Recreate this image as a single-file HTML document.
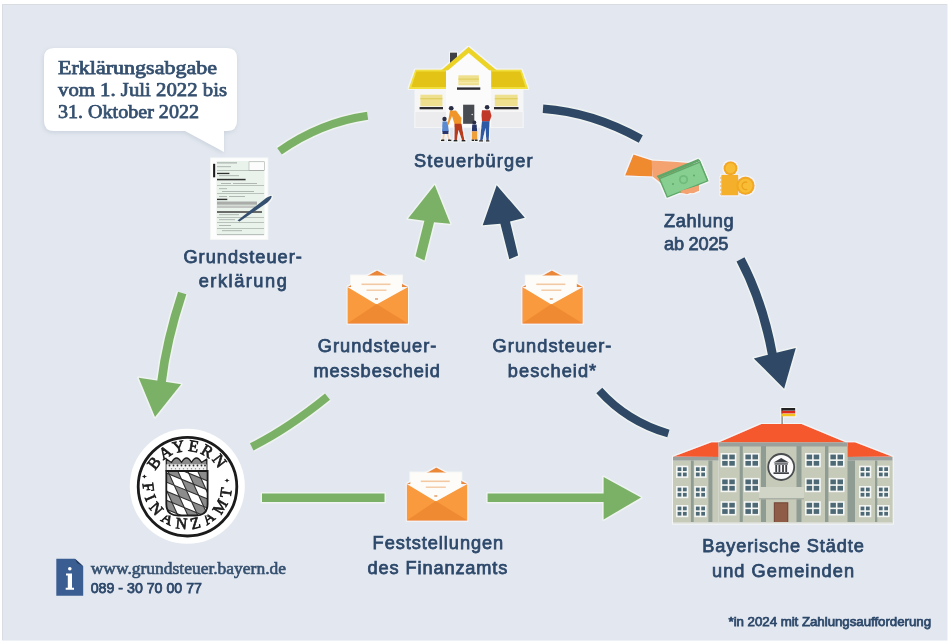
<!DOCTYPE html>
<html><head><meta charset="utf-8">
<style>
html,body{margin:0;padding:0;background:#fff;}
body{width:950px;height:643px;overflow:hidden;position:relative;}
svg{position:absolute;left:0;top:0;display:block;will-change:transform;}
.lb{font-family:"Liberation Sans",sans-serif;font-weight:normal;fill:#2d486a;stroke:#2d486a;stroke-width:0.75px;font-size:18.2px;}
.sl{font-family:"Liberation Serif",serif;font-weight:normal;fill:#35506f;stroke:#35506f;stroke-width:0.75px;font-size:19.5px;}
</style></head><body>
<svg width="950" height="643" viewBox="0 0 950 643">
<rect x="0" y="0" width="950" height="643" fill="#ffffff"/>
<rect x="2" y="4" width="945.5" height="636.6" fill="#e3e8f0"/>
<path d="M2.5,640 V4.5 H947" fill="none" stroke="#d9dde2" stroke-width="1"/>

<defs><filter id="halo" x="-10%" y="-10%" width="120%" height="120%">
  <feMorphology in="SourceAlpha" operator="dilate" radius="1.2" result="d"/>
  <feFlood flood-color="#f7f9f7" flood-opacity="0.85"/>
  <feComposite in2="d" operator="in" result="h"/>
  <feGaussianBlur in="h" stdDeviation="0.5" result="hb"/>
  <feMerge><feMergeNode in="hb"/><feMergeNode in="SourceGraphic"/></feMerge>
</filter></defs>
<!-- speech bubble -->
<filter id="bsh" x="-20%" y="-20%" width="140%" height="140%"><feGaussianBlur stdDeviation="2.5"/></filter>
<path d="M54,48 H227 Q237,48 237,58 V121 Q237,131 227,131 H224 V152 L185,131 H54 Q44,131 44,121 V58 Q44,48 54,48 Z" fill="#9aa6b4" opacity="0.35" filter="url(#bsh)" transform="translate(-0.5,1.5)"/>
<path d="M54,48 H227 Q237,48 237,58 V121 Q237,131 227,131 H224 V152 L185,131 H54 Q44,131 44,121 V58 Q44,48 54,48 Z" fill="#ffffff"/>
<text class="sl" x="58" y="73.5" textLength="159" lengthAdjust="spacingAndGlyphs">Erklärungsabgabe</text>
<text class="sl" x="58" y="95.8" textLength="169" lengthAdjust="spacingAndGlyphs">vom 1. Juli 2022 bis</text>
<text class="sl" x="58" y="117.9" textLength="141" lengthAdjust="spacingAndGlyphs">31. Oktober 2022</text>

<!-- arcs and arrows -->
<g id="halo" opacity="0.75" fill="none" stroke="#f4f7f3" stroke-linejoin="round">
  <path d="M279.5,151.3 Q320.5,122.5 367.6,115.8" stroke-width="11"/>
  <path d="M543,108.8 Q591.5,112 640.8,139" stroke-width="11.5"/>
  <path d="M740.5,259.3 Q762.7,301.25 772.5,355" stroke-width="12"/>
  <path d="M599.3,390.5 Q627,421.5 668.4,433.5" stroke-width="11"/>
  <path d="M251.7,446.8 Q287,429.5 327.5,396.7" stroke-width="11"/>
  <path d="M182.2,293 Q166.35,340.9 161.5,382" stroke-width="11.7"/>
  <polygon points="753.8,358.4 795.8,348 784.1,388.7" stroke-width="3" fill="#f4f7f3"/>
  <polygon points="138.7,377.8 181.1,384.3 155,417" stroke-width="3" fill="#f4f7f3"/>
  <polygon points="434.7,185 408.1,218.6 424.4,220.8 415.5,256.2 424.4,260.4 434,222.3 450.2,223.7" stroke-width="3" fill="#f4f7f3"/>
  <polygon points="496.7,185.3 524.8,217.8 510,221.5 518.1,255.5 509.3,259.2 500.4,223.7 482.7,225.2" stroke-width="3" fill="#f4f7f3"/>
  <polygon points="262,493.6 384.5,493.6 384.5,502 262,502" stroke-width="3" fill="#f4f7f3"/>
  <polygon points="487.6,493.6 604,493.6 604,502 487.6,502" stroke-width="3" fill="#f4f7f3"/>
  <polygon points="603.6,477 641,497.6 603.6,519.4" stroke-width="3" fill="#f4f7f3"/>
</g>
<g fill="none" stroke-linecap="butt">
  <path d="M279.5,151.3 Q320.5,122.5 367.6,115.8" stroke="#7bb166" stroke-width="8"/>
  <path d="M543,108.8 Q591.5,112 640.8,139" stroke="#2e4865" stroke-width="8.5"/>
  <path d="M740.5,259.3 Q762.7,301.25 772.5,355" stroke="#2e4865" stroke-width="9"/>
  <path d="M599.3,390.5 Q627,421.5 668.4,433.5" stroke="#2e4865" stroke-width="8"/>
  <path d="M251.7,446.8 Q287,429.5 327.5,396.7" stroke="#7bb166" stroke-width="8"/>
  <path d="M182.2,293 Q166.35,340.9 161.5,382" stroke="#7bb166" stroke-width="8.7"/>
</g>
<polygon points="753.8,358.4 795.8,348 784.1,388.7" fill="#2e4865"/>
<polygon points="138.7,377.8 181.1,384.3 155,417" fill="#7bb166"/>
<polygon points="434.7,185 408.1,218.6 424.4,220.8 415.5,256.2 424.4,260.4 434,222.3 450.2,223.7" fill="#7bb166"/>
<polygon points="496.7,185.3 524.8,217.8 510,221.5 518.1,255.5 509.3,259.2 500.4,223.7 482.7,225.2" fill="#2e4865"/>
<polygon points="262,493.6 384.5,493.6 384.5,502 262,502" fill="#7bb166"/>
<polygon points="487.6,493.6 604,493.6 604,502 487.6,502" fill="#7bb166"/>
<polygon points="603.6,477 641,497.6 603.6,519.4" fill="#7bb166"/>

<!-- envelopes -->
<defs>
<g id="env">
  <path d="M0,0 L29.5,-16.5 L60.5,0 Z" fill="#ea8838"/>
  <rect x="3.5" y="-11.5" width="51" height="30" fill="#fdfcf9"/>
  <rect x="14" y="-3.5" width="29" height="1.6" fill="#f3c9a4"/>
  <rect x="19" y="2.5" width="20" height="1.4" fill="#f3c9a4"/>
  <rect x="27.5" y="11" width="3" height="2" fill="#e9b68c"/>
  <path d="M0,0 L29,17.5 L60.5,0 V36.5 H0 Z" fill="#f89a3c"/>
  <path d="M0,36.5 L29,17 L60.5,36.5 Z" fill="#ef8a33"/>
</g>
</defs>
<g filter="url(#halo)"><use href="#env" x="347.5" y="287"/>
<use href="#env" x="522.3" y="287"/>
<use href="#env" x="406.8" y="484"/></g>


<!-- house -->
<g id="house" filter="url(#halo)">
  <!-- wing walls -->
  <rect x="415.5" y="88" width="107" height="39" fill="#f6f6f7"/>
  <rect x="415.5" y="112" width="107" height="15" fill="#ececef"/>
  <!-- chimney -->
  <rect x="450" y="52.5" width="7" height="12" fill="#3f4147"/>
  <!-- wing roofs -->
  <path d="M415.3,69.5 H446 V89 H408.5 Z" fill="#f1df3e"/>
  <path d="M416.5,71.5 H446 V87 H411.5 Z" fill="#e2c316"/>
  <path d="M491,69.5 H521.5 L528.3,89 H491 Z" fill="#f1df3e"/>
  <path d="M491,71.5 H520.3 L525.3,87 H491 Z" fill="#e2c316"/>
  <!-- gable -->
  <path d="M441,70.5 L468.6,46.8 L497,70.5 Z" fill="#ecd428"/>
  <path d="M446,72 L468.6,53 L491.2,72 V127 H446 Z" fill="#fbfbfb"/>
  <!-- windows -->
  <rect x="458.4" y="75.3" width="20.5" height="10" fill="#eee08e"/>
  <rect x="458.4" y="78.5" width="20.5" height="1.3" fill="#e2cf62"/>
  <rect x="458.4" y="82" width="20.5" height="1.3" fill="#f5eaa8"/>
  <rect x="457" y="87.4" width="23.3" height="2.4" fill="#2e2f33"/>
  <rect x="420.4" y="94.7" width="22" height="11.5" fill="#eee08e"/>
  <rect x="420.4" y="98" width="22" height="1.3" fill="#e2cf62"/>
  <rect x="419.6" y="107" width="23.4" height="2.3" fill="#2e2f33"/>
  <rect x="494.8" y="94.7" width="22.8" height="11.5" fill="#eee08e"/>
  <rect x="494.8" y="98" width="22.8" height="1.3" fill="#e2cf62"/>
  <rect x="494" y="107" width="24.5" height="2.3" fill="#2e2f33"/>
  <!-- door -->
  <rect x="463.1" y="104.7" width="11.2" height="19.1" fill="#4a4b53"/>
  <circle cx="472.2" cy="114.5" r="0.8" fill="#ddd"/>
  <!-- people -->
  <g>
    <!-- child 1 -->
    <circle cx="444.5" cy="119" r="2.2" fill="#2a2d45"/>
    <path d="M442.5,121.5 H447.5 L449,131.5 H442 Z" fill="#5b8ad0"/>
    <rect x="442.3" y="131" width="6.3" height="3" fill="#2c3470"/>
    <path d="M443,134 L442,140 H444 L445,134 Z M446.5,134 L448.5,140 H450 L448.5,134 Z" fill="#f2d2b8"/>
    <rect x="441" y="139.5" width="3.5" height="1.6" fill="#222"/>
    <rect x="448" y="139.5" width="3.5" height="1.6" fill="#222"/>
    <!-- father -->
    <circle cx="451.2" cy="108.3" r="2.4" fill="#2a2d45"/>
    <path d="M450,110.8 L456,110.5 L461.5,118 L461,124 H454.5 L452,116 L448.5,125 L447.5,124.5 Z" fill="#f0952c"/>
    <path d="M454.5,123.8 H461.5 L464.5,140.5 H462 L458.5,130 L456.8,140.8 H454.3 Z" fill="#b83a1e"/>
    <rect x="453.5" y="140" width="4" height="1.6" fill="#222"/>
    <rect x="461.5" y="140" width="4" height="1.6" fill="#222"/>
    <!-- child 2 -->
    <circle cx="474.3" cy="122.5" r="2" fill="#2a2d45"/>
    <path d="M472.2,124.5 H476.6 L477.3,131.5 H471.8 Z" fill="#27346a"/>
    <rect x="471.8" y="131.3" width="5.5" height="8.5" fill="#f0a03a"/>
    <rect x="471.5" y="139.5" width="2.8" height="1.5" fill="#222"/>
    <rect x="475" y="139.5" width="2.8" height="1.5" fill="#222"/>
    <!-- mother -->
    <circle cx="487.1" cy="107.3" r="2.3" fill="#2a2d45"/>
    <path d="M482,110.2 H490 L491.5,116 L489.5,121.5 H482 L481.5,115 Z" fill="#c0392b"/>
    <path d="M482,121.3 H489.5 L488.8,140.8 H486.3 L485.5,128 L482.5,140.8 H480 L481,130 Z" fill="#2e5aa5"/>
    <rect x="479" y="140.2" width="4" height="1.5" fill="#222"/>
    <rect x="486" y="140.2" width="3.5" height="1.5" fill="#222"/>
  </g>
</g>


<!-- money -->
<g id="money" filter="url(#halo)">
  <path d="M625,175.5 L633.5,154.5 L652,160.5 L652.5,176.5 Z" fill="#f08a2d"/>
  <path d="M651.5,160.5 Q670,161 690,163 Q700,164 702,168 L690,176 L662,184 L652.5,176.5 Z" fill="#f5a271"/>
  <path d="M679,186 Q688,186 699,184 L699,191 Q690,194 680,193 Z" fill="#f5a271"/>
  <path d="M656.5,176 L698.3,158.7 L700.3,161 L658.5,178.3 Z" fill="#5ea86b"/><path d="M698.3,158.7 L700.3,161 L708.6,181.2 L706.6,179 Z" fill="#5ea86b"/>
  <path d="M658.5,178.3 L700.3,161 L708.6,181.2 L666.8,198 Z" fill="#5ea86b"/>
  <path d="M660.5,178.9 L699.5,163 L706.8,180.6 L667.6,196.3 Z" fill="#86cf90"/>
  <circle cx="683.5" cy="179.6" r="4.6" fill="#6fbb7d"/>
  <circle cx="683.5" cy="179.6" r="2.8" fill="#86cf90"/>
  <circle cx="673" cy="184" r="1" fill="#5ea86b"/>
  <circle cx="694" cy="175.5" r="1" fill="#5ea86b"/>
  <path d="M680,191 Q686,196 690,193 Q696,194 699,189 L697,186 Z" fill="#f5a271"/>
  <!-- coins -->
  <rect x="721.3" y="174.8" width="17" height="20.6" fill="#f4b02a"/>
  <path d="M721.5,176 l-1.5,2 l1.5,2 l-1.5,2 l1.5,2 l-1.5,2 l1.5,2 l-1.5,2 l1.5,2 l-1.5,2 l1.5,2 Z" fill="#f4b02a"/>
  <circle cx="730.5" cy="168.3" r="7" fill="#f1a823"/>
  <circle cx="730.5" cy="168.3" r="5" fill="#f8bd36"/>
  <circle cx="745.5" cy="185.8" r="9.2" fill="#f1a823"/>
  <circle cx="745.5" cy="185.8" r="7" fill="#f8bd36"/>
  <path d="M747.3,182.3 A3.8,3.8 0 1 0 747.3,189.3" fill="none" stroke="#eca21f" stroke-width="1.3"/>
</g>

<!-- document -->
<g id="doc" filter="url(#halo)">
  <rect x="211" y="158.4" width="56.3" height="80.6" fill="#fdfdfd"/>
  <rect x="216.5" y="161" width="48" height="74" fill="#e9f3ec"/>
  <rect x="249" y="161.8" width="15.6" height="8.8" fill="#fbfcfb" stroke="#9aa09c" stroke-width="0.5"/>
  <rect x="213.1" y="163.8" width="2.1" height="13.5" fill="#1d1d1d"/>
  <g fill="#8a908c">
    <rect x="217" y="162.5" width="20" height="0.8"/>
    <rect x="217" y="166.5" width="14" height="0.6"/>
    <rect x="217" y="170.5" width="47" height="0.5"/>
    <rect x="217" y="172.8" width="12.4" height="1.3" fill="#333"/>
    <rect x="219" y="175.5" width="20" height="0.6"/>
    <rect x="217" y="178.8" width="28.6" height="1.5" fill="#333"/>
    <rect x="221" y="183" width="10" height="0.6"/>
    <rect x="233" y="183" width="24" height="0.6"/>
    <rect x="217" y="185.5" width="47" height="0.5"/>
    <rect x="219" y="188.5" width="8" height="0.6"/>
    <rect x="222" y="191" width="32" height="0.6"/>
    <rect x="217" y="193.5" width="47" height="0.5"/>
    <rect x="219" y="196" width="8" height="0.6"/>
    <rect x="229" y="196" width="16" height="0.6"/>
    <rect x="217" y="198.7" width="10.3" height="1.4" fill="#333"/>
    <rect x="217" y="201.5" width="40" height="3.2" fill="#a9aca9"/>
    <rect x="217" y="205.5" width="42" height="2.5" fill="#c2c5c2"/>
    <rect x="217" y="211.3" width="45" height="1.4" fill="#333"/>
    <rect x="219" y="214.5" width="20" height="0.6"/>
    <rect x="217" y="217" width="47" height="0.5"/>
    <rect x="219" y="219.5" width="16" height="0.6"/>
    <rect x="217" y="222.5" width="47" height="0.5"/>
    <rect x="219" y="225" width="12" height="0.6"/>
    <rect x="217" y="228" width="47" height="0.5"/>
    <rect x="222" y="230.5" width="20" height="0.6"/>
    <rect x="217" y="234.5" width="47" height="0.6"/>
    
  </g>
  <path d="M237.5,220.5 L265.5,198.5 Q270.5,195 271.8,196 Q272,198.5 267.5,202.5 L239.5,221.5 Z" fill="#34506f"/>
</g>
<!-- info icon -->
<path d="M56.3,558.7 H75 L83.2,566.2 V595.7 H56.3 Z" fill="#3b5e92"/>
<path d="M75,558.7 L83.2,566.2 L77,563 Z" fill="#24395a"/>
<circle cx="69.8" cy="568.8" r="1.8" fill="#ffffff"/>
<path d="M66,573.5 H72 V587.8 H74 V589.8 H65.7 V587.8 H67.8 V575.5 H66 Z" fill="#ffffff"/>


<!-- seal -->
<g id="seal">
  <circle cx="187.3" cy="486.3" r="57.5" fill="#ffffff"/>
  <circle cx="187.5" cy="486.7" r="49.3" fill="none" stroke="#1b1b1b" stroke-width="2.8"/>
  <path id="arcTop" d="M154.6,502 A36,36 0 1 1 220.4,502" fill="none"/>
  <path id="arcBot" d="M143.5,478 A44.5,44.5 0 1 0 231.5,478" fill="none"/>
  <text font-family="Liberation Serif,serif" font-size="16.5" fill="#1b1b1b" stroke="#1b1b1b" stroke-width="0.7"><textPath href="#arcTop" startOffset="50%" text-anchor="middle" letter-spacing="2.1">BAYERN</textPath></text>
  <text font-family="Liberation Serif,serif" font-size="16" fill="#1b1b1b" stroke="#1b1b1b" stroke-width="0.7"><textPath href="#arcBot" startOffset="50%" text-anchor="middle" letter-spacing="5.3">FINANZAMT</textPath></text>
  <g fill="#1b1b1b">
    <path d="M144.4,474.5 l1,1.5 l1.8,0.5 l-1.8,0.5 l-1,1.5 l-1,-1.5 l-1.8,-0.5 l1.8,-0.5 Z"/>
    <path d="M227,478.4 l1,1.5 l1.8,0.5 l-1.8,0.5 l-1,1.5 l-1,-1.5 l-1.8,-0.5 l1.8,-0.5 Z"/>
  </g>
  <!-- shield -->
  <path d="M166.3,471 V459 L171.5,462.5 Q176.5,453.5 181.5,462.5 Q186.5,453.5 191.5,462.5 Q196.5,453.5 201.5,462.5 L206.8,459 V471 Z" fill="#8a8a8a" stroke="#1e1e1e" stroke-width="1.3" stroke-linejoin="round"/>
  <rect x="166.5" y="464.3" width="40" height="6.3" fill="#f2f2f2"/>
  <g fill="#2a2a2a">
    <circle cx="169.5" cy="465.5" r="0.9"/><circle cx="173.5" cy="465.5" r="0.9"/><circle cx="177.5" cy="465.5" r="0.9"/><circle cx="181.5" cy="465.5" r="0.9"/><circle cx="185.5" cy="465.5" r="0.9"/><circle cx="189.5" cy="465.5" r="0.9"/><circle cx="193.5" cy="465.5" r="0.9"/><circle cx="197.5" cy="465.5" r="0.9"/><circle cx="201.5" cy="465.5" r="0.9"/><circle cx="205" cy="465.5" r="0.9"/>
  </g>
  <g fill="#8a8a8a">
    <circle cx="171.5" cy="468.8" r="0.7"/><circle cx="175.5" cy="468.8" r="0.7"/><circle cx="179.5" cy="468.8" r="0.7"/><circle cx="183.5" cy="468.8" r="0.7"/><circle cx="187.5" cy="468.8" r="0.7"/><circle cx="191.5" cy="468.8" r="0.7"/><circle cx="195.5" cy="468.8" r="0.7"/><circle cx="199.5" cy="468.8" r="0.7"/><circle cx="203.5" cy="468.8" r="0.7"/>
  </g>
  <clipPath id="shc"><path d="M166.3,471 H207.6 V504 Q207.6,515.5 196,515.5 H178 Q166.3,515.5 166.3,504 Z"/></clipPath>
  <rect x="166.3" y="471" width="41.3" height="44.5" fill="#ffffff"/>
  <g clip-path="url(#shc)">
    <g fill="#8c8c8c"><polygon points="105.5,421.0 117.7,426.0 122.7,437.1 110.5,432.1"/><polygon points="115.5,443.2 127.7,448.2 132.7,459.3 120.5,454.3"/><polygon points="125.5,465.4 137.7,470.4 142.7,481.5 130.5,476.5"/><polygon points="135.5,487.6 147.7,492.6 152.7,503.7 140.5,498.7"/><polygon points="145.5,509.8 157.7,514.8 162.7,525.9 150.5,520.9"/><polygon points="122.7,437.1 134.9,442.1 139.9,453.2 127.7,448.2"/><polygon points="132.7,459.3 144.9,464.3 149.9,475.4 137.7,470.4"/><polygon points="142.7,481.5 154.9,486.5 159.9,497.6 147.7,492.6"/><polygon points="152.7,503.7 164.9,508.7 169.9,519.8 157.7,514.8"/><polygon points="129.9,431.0 142.1,436.0 147.1,447.1 134.9,442.1"/><polygon points="139.9,453.2 152.1,458.2 157.1,469.3 144.9,464.3"/><polygon points="149.9,475.4 162.1,480.4 167.1,491.5 154.9,486.5"/><polygon points="159.9,497.6 172.1,502.6 177.1,513.7 164.9,508.7"/><polygon points="169.9,519.8 182.1,524.8 187.1,535.9 174.9,530.9"/><polygon points="147.1,447.1 159.3,452.1 164.3,463.2 152.1,458.2"/><polygon points="157.1,469.3 169.3,474.3 174.3,485.4 162.1,480.4"/><polygon points="167.1,491.5 179.3,496.5 184.3,507.6 172.1,502.6"/><polygon points="177.1,513.7 189.3,518.7 194.3,529.8 182.1,524.8"/><polygon points="154.3,441.0 166.5,446.0 171.5,457.1 159.3,452.1"/><polygon points="164.3,463.2 176.5,468.2 181.5,479.3 169.3,474.3"/><polygon points="174.3,485.4 186.5,490.4 191.5,501.5 179.3,496.5"/><polygon points="184.3,507.6 196.5,512.6 201.5,523.7 189.3,518.7"/><polygon points="194.3,529.8 206.5,534.8 211.5,545.9 199.3,540.9"/><polygon points="171.5,457.1 183.7,462.1 188.7,473.2 176.5,468.2"/><polygon points="181.5,479.3 193.7,484.3 198.7,495.4 186.5,490.4"/><polygon points="191.5,501.5 203.7,506.5 208.7,517.6 196.5,512.6"/><polygon points="201.5,523.7 213.7,528.7 218.7,539.8 206.5,534.8"/><polygon points="178.7,451.0 190.9,456.0 195.9,467.1 183.7,462.1"/><polygon points="188.7,473.2 200.9,478.2 205.9,489.3 193.7,484.3"/><polygon points="198.7,495.4 210.9,500.4 215.9,511.5 203.7,506.5"/><polygon points="208.7,517.6 220.9,522.6 225.9,533.7 213.7,528.7"/><polygon points="218.7,539.8 230.9,544.8 235.9,555.9 223.7,550.9"/><polygon points="195.9,467.1 208.1,472.1 213.1,483.2 200.9,478.2"/><polygon points="205.9,489.3 218.1,494.3 223.1,505.4 210.9,500.4"/><polygon points="215.9,511.5 228.1,516.5 233.1,527.6 220.9,522.6"/><polygon points="225.9,533.7 238.1,538.7 243.1,549.8 230.9,544.8"/><polygon points="203.1,461.0 215.3,466.0 220.3,477.1 208.1,472.1"/><polygon points="213.1,483.2 225.3,488.2 230.3,499.3 218.1,494.3"/><polygon points="223.1,505.4 235.3,510.4 240.3,521.5 228.1,516.5"/><polygon points="233.1,527.6 245.3,532.6 250.3,543.7 238.1,538.7"/><polygon points="243.1,549.8 255.3,554.8 260.3,565.9 248.1,560.9"/></g>
      <g stroke="#2e2e2e" stroke-width="1.1"><line x1="105.5" y1="421.0" x2="150.5" y2="520.9"/><line x1="117.7" y1="426.0" x2="162.7" y2="525.9"/><line x1="129.9" y1="431.0" x2="174.9" y2="530.9"/><line x1="142.1" y1="436.0" x2="187.1" y2="535.9"/><line x1="154.3" y1="441.0" x2="199.3" y2="540.9"/><line x1="166.5" y1="446.0" x2="211.5" y2="545.9"/><line x1="178.7" y1="451.0" x2="223.7" y2="550.9"/><line x1="190.9" y1="456.0" x2="235.9" y2="555.9"/><line x1="203.1" y1="461.0" x2="248.1" y2="560.9"/><line x1="215.3" y1="466.0" x2="260.3" y2="565.9"/><line x1="105.5" y1="421.0" x2="215.3" y2="466.0"/><line x1="110.5" y1="432.1" x2="220.3" y2="477.1"/><line x1="115.5" y1="443.2" x2="225.3" y2="488.2"/><line x1="120.5" y1="454.3" x2="230.3" y2="499.3"/><line x1="125.5" y1="465.4" x2="235.3" y2="510.4"/><line x1="130.5" y1="476.5" x2="240.3" y2="521.5"/><line x1="135.5" y1="487.6" x2="245.3" y2="532.6"/><line x1="140.5" y1="498.7" x2="250.3" y2="543.7"/><line x1="145.5" y1="509.8" x2="255.3" y2="554.8"/><line x1="150.5" y1="520.9" x2="260.3" y2="565.9"/></g>
  </g>
  <path d="M166.3,471 H207.6 V504 Q207.6,515.5 196,515.5 H178 Q166.3,515.5 166.3,504 Z" fill="none" stroke="#1b1b1b" stroke-width="1.8"/>
</g>

<!-- town hall -->
<g id="townhall" filter="url(#halo)">
  <!-- flag -->
  <rect x="781.3" y="408" width="1.6" height="16.5" fill="#8a8f8a"/>
  <rect x="781.3" y="408" width="14" height="2.8" fill="#222"/>
  <rect x="781.3" y="410.8" width="14" height="2.8" fill="#dd2a1b"/>
  <rect x="781.3" y="413.6" width="14" height="2.8" fill="#f3c21a"/>
  <!-- wings body -->
  <rect x="673" y="460.5" width="45.5" height="62" fill="#c6cab9"/>
  <rect x="847.4" y="460.5" width="45.3" height="62" fill="#c6cab9"/>
  <!-- center body -->
  <rect x="718.5" y="446" width="129" height="76.5" fill="#c6cab9"/>
  <!-- wing roofs -->
  <path d="M673,456.8 L711.5,442.3 H718.5 V457 Z" fill="#f6582f"/>
  <rect x="673" y="456.8" width="45.5" height="3.8" fill="#9aa19c"/>
  <path d="M892.5,456.8 L855,442.3 H847.4 V457 Z" fill="#f6582f"/>
  <rect x="847.4" y="456.8" width="45.2" height="3.8" fill="#9aa19c"/>
  <!-- main roof -->
  <path d="M718.5,442.5 L761.3,424 H801.6 L846.2,442.5 Z" fill="#f6582f"/>
  <rect x="718.5" y="442.3" width="129" height="4.2" fill="#9aa19c"/>
  <!-- pilasters -->
  <g fill="#8f9c93">
    <rect x="690.9" y="460.5" width="2.8" height="62"/>
    <rect x="708.4" y="460.5" width="4" height="62"/>
    <rect x="739.7" y="446" width="3.1" height="76.5"/>
    <rect x="761" y="446" width="5" height="76.5"/>
    <rect x="796.5" y="446" width="5" height="76.5"/>
    <rect x="825" y="446" width="3.4" height="76.5"/>
    <rect x="847.4" y="460.5" width="7.6" height="62"/>
    <rect x="875" y="460.5" width="2.3" height="62"/>
  </g>
  <!-- balcony band -->
  <rect x="759" y="487" width="45" height="12" fill="#d0d5c8"/>
  <rect x="759" y="498" width="45" height="1.5" fill="#a9b0a6"/>
  <rect x="720.6" y="453.0" width="15.8" height="14.3" fill="#f4f6f4"/><rect x="722.20" y="454.60" width="5.50" height="4.75" fill="#4e6976"/><rect x="722.20" y="460.95" width="5.50" height="4.75" fill="#4e6976"/><rect x="729.30" y="454.60" width="5.50" height="4.75" fill="#4e6976"/><rect x="729.30" y="460.95" width="5.50" height="4.75" fill="#4e6976"/><rect x="720.6" y="477.9" width="15.8" height="14.3" fill="#f4f6f4"/><rect x="722.20" y="479.50" width="5.50" height="4.75" fill="#4e6976"/><rect x="722.20" y="485.85" width="5.50" height="4.75" fill="#4e6976"/><rect x="729.30" y="479.50" width="5.50" height="4.75" fill="#4e6976"/><rect x="729.30" y="485.85" width="5.50" height="4.75" fill="#4e6976"/><rect x="720.6" y="501.2" width="15.8" height="14.3" fill="#f4f6f4"/><rect x="722.20" y="502.80" width="5.50" height="4.75" fill="#4e6976"/><rect x="722.20" y="509.15" width="5.50" height="4.75" fill="#4e6976"/><rect x="729.30" y="502.80" width="5.50" height="4.75" fill="#4e6976"/><rect x="729.30" y="509.15" width="5.50" height="4.75" fill="#4e6976"/><rect x="743.8" y="453.0" width="15.8" height="14.3" fill="#f4f6f4"/><rect x="745.40" y="454.60" width="5.50" height="4.75" fill="#4e6976"/><rect x="745.40" y="460.95" width="5.50" height="4.75" fill="#4e6976"/><rect x="752.50" y="454.60" width="5.50" height="4.75" fill="#4e6976"/><rect x="752.50" y="460.95" width="5.50" height="4.75" fill="#4e6976"/><rect x="743.8" y="477.9" width="15.8" height="14.3" fill="#f4f6f4"/><rect x="745.40" y="479.50" width="5.50" height="4.75" fill="#4e6976"/><rect x="745.40" y="485.85" width="5.50" height="4.75" fill="#4e6976"/><rect x="752.50" y="479.50" width="5.50" height="4.75" fill="#4e6976"/><rect x="752.50" y="485.85" width="5.50" height="4.75" fill="#4e6976"/><rect x="743.8" y="501.2" width="15.8" height="14.3" fill="#f4f6f4"/><rect x="745.40" y="502.80" width="5.50" height="4.75" fill="#4e6976"/><rect x="745.40" y="509.15" width="5.50" height="4.75" fill="#4e6976"/><rect x="752.50" y="502.80" width="5.50" height="4.75" fill="#4e6976"/><rect x="752.50" y="509.15" width="5.50" height="4.75" fill="#4e6976"/><rect x="805.0" y="453.0" width="15.8" height="14.3" fill="#f4f6f4"/><rect x="806.60" y="454.60" width="5.50" height="4.75" fill="#4e6976"/><rect x="806.60" y="460.95" width="5.50" height="4.75" fill="#4e6976"/><rect x="813.70" y="454.60" width="5.50" height="4.75" fill="#4e6976"/><rect x="813.70" y="460.95" width="5.50" height="4.75" fill="#4e6976"/><rect x="805.0" y="477.9" width="15.8" height="14.3" fill="#f4f6f4"/><rect x="806.60" y="479.50" width="5.50" height="4.75" fill="#4e6976"/><rect x="806.60" y="485.85" width="5.50" height="4.75" fill="#4e6976"/><rect x="813.70" y="479.50" width="5.50" height="4.75" fill="#4e6976"/><rect x="813.70" y="485.85" width="5.50" height="4.75" fill="#4e6976"/><rect x="805.0" y="501.2" width="15.8" height="14.3" fill="#f4f6f4"/><rect x="806.60" y="502.80" width="5.50" height="4.75" fill="#4e6976"/><rect x="806.60" y="509.15" width="5.50" height="4.75" fill="#4e6976"/><rect x="813.70" y="502.80" width="5.50" height="4.75" fill="#4e6976"/><rect x="813.70" y="509.15" width="5.50" height="4.75" fill="#4e6976"/><rect x="828.8" y="453.0" width="15.8" height="14.3" fill="#f4f6f4"/><rect x="830.40" y="454.60" width="5.50" height="4.75" fill="#4e6976"/><rect x="830.40" y="460.95" width="5.50" height="4.75" fill="#4e6976"/><rect x="837.50" y="454.60" width="5.50" height="4.75" fill="#4e6976"/><rect x="837.50" y="460.95" width="5.50" height="4.75" fill="#4e6976"/><rect x="828.8" y="477.9" width="15.8" height="14.3" fill="#f4f6f4"/><rect x="830.40" y="479.50" width="5.50" height="4.75" fill="#4e6976"/><rect x="830.40" y="485.85" width="5.50" height="4.75" fill="#4e6976"/><rect x="837.50" y="479.50" width="5.50" height="4.75" fill="#4e6976"/><rect x="837.50" y="485.85" width="5.50" height="4.75" fill="#4e6976"/><rect x="828.8" y="501.2" width="15.8" height="14.3" fill="#f4f6f4"/><rect x="830.40" y="502.80" width="5.50" height="4.75" fill="#4e6976"/><rect x="830.40" y="509.15" width="5.50" height="4.75" fill="#4e6976"/><rect x="837.50" y="502.80" width="5.50" height="4.75" fill="#4e6976"/><rect x="837.50" y="509.15" width="5.50" height="4.75" fill="#4e6976"/><rect x="676.0" y="465.7" width="12.3" height="12.2" fill="#f4f6f4"/><rect x="677.60" y="467.30" width="3.75" height="3.70" fill="#4e6976"/><rect x="677.60" y="472.60" width="3.75" height="3.70" fill="#4e6976"/><rect x="682.95" y="467.30" width="3.75" height="3.70" fill="#4e6976"/><rect x="682.95" y="472.60" width="3.75" height="3.70" fill="#4e6976"/><rect x="676.0" y="486.0" width="12.3" height="12.2" fill="#f4f6f4"/><rect x="677.60" y="487.60" width="3.75" height="3.70" fill="#4e6976"/><rect x="677.60" y="492.90" width="3.75" height="3.70" fill="#4e6976"/><rect x="682.95" y="487.60" width="3.75" height="3.70" fill="#4e6976"/><rect x="682.95" y="492.90" width="3.75" height="3.70" fill="#4e6976"/><rect x="676.0" y="505.0" width="12.3" height="12.2" fill="#f4f6f4"/><rect x="677.60" y="506.60" width="3.75" height="3.70" fill="#4e6976"/><rect x="677.60" y="511.90" width="3.75" height="3.70" fill="#4e6976"/><rect x="682.95" y="506.60" width="3.75" height="3.70" fill="#4e6976"/><rect x="682.95" y="511.90" width="3.75" height="3.70" fill="#4e6976"/><rect x="694.3" y="465.7" width="12.3" height="12.2" fill="#f4f6f4"/><rect x="695.90" y="467.30" width="3.75" height="3.70" fill="#4e6976"/><rect x="695.90" y="472.60" width="3.75" height="3.70" fill="#4e6976"/><rect x="701.25" y="467.30" width="3.75" height="3.70" fill="#4e6976"/><rect x="701.25" y="472.60" width="3.75" height="3.70" fill="#4e6976"/><rect x="694.3" y="486.0" width="12.3" height="12.2" fill="#f4f6f4"/><rect x="695.90" y="487.60" width="3.75" height="3.70" fill="#4e6976"/><rect x="695.90" y="492.90" width="3.75" height="3.70" fill="#4e6976"/><rect x="701.25" y="487.60" width="3.75" height="3.70" fill="#4e6976"/><rect x="701.25" y="492.90" width="3.75" height="3.70" fill="#4e6976"/><rect x="694.3" y="505.0" width="12.3" height="12.2" fill="#f4f6f4"/><rect x="695.90" y="506.60" width="3.75" height="3.70" fill="#4e6976"/><rect x="695.90" y="511.90" width="3.75" height="3.70" fill="#4e6976"/><rect x="701.25" y="506.60" width="3.75" height="3.70" fill="#4e6976"/><rect x="701.25" y="511.90" width="3.75" height="3.70" fill="#4e6976"/><rect x="859.0" y="465.7" width="12.3" height="12.2" fill="#f4f6f4"/><rect x="860.60" y="467.30" width="3.75" height="3.70" fill="#4e6976"/><rect x="860.60" y="472.60" width="3.75" height="3.70" fill="#4e6976"/><rect x="865.95" y="467.30" width="3.75" height="3.70" fill="#4e6976"/><rect x="865.95" y="472.60" width="3.75" height="3.70" fill="#4e6976"/><rect x="859.0" y="486.0" width="12.3" height="12.2" fill="#f4f6f4"/><rect x="860.60" y="487.60" width="3.75" height="3.70" fill="#4e6976"/><rect x="860.60" y="492.90" width="3.75" height="3.70" fill="#4e6976"/><rect x="865.95" y="487.60" width="3.75" height="3.70" fill="#4e6976"/><rect x="865.95" y="492.90" width="3.75" height="3.70" fill="#4e6976"/><rect x="859.0" y="505.0" width="12.3" height="12.2" fill="#f4f6f4"/><rect x="860.60" y="506.60" width="3.75" height="3.70" fill="#4e6976"/><rect x="860.60" y="511.90" width="3.75" height="3.70" fill="#4e6976"/><rect x="865.95" y="506.60" width="3.75" height="3.70" fill="#4e6976"/><rect x="865.95" y="511.90" width="3.75" height="3.70" fill="#4e6976"/><rect x="877.3" y="465.7" width="12.3" height="12.2" fill="#f4f6f4"/><rect x="878.90" y="467.30" width="3.75" height="3.70" fill="#4e6976"/><rect x="878.90" y="472.60" width="3.75" height="3.70" fill="#4e6976"/><rect x="884.25" y="467.30" width="3.75" height="3.70" fill="#4e6976"/><rect x="884.25" y="472.60" width="3.75" height="3.70" fill="#4e6976"/><rect x="877.3" y="486.0" width="12.3" height="12.2" fill="#f4f6f4"/><rect x="878.90" y="487.60" width="3.75" height="3.70" fill="#4e6976"/><rect x="878.90" y="492.90" width="3.75" height="3.70" fill="#4e6976"/><rect x="884.25" y="487.60" width="3.75" height="3.70" fill="#4e6976"/><rect x="884.25" y="492.90" width="3.75" height="3.70" fill="#4e6976"/><rect x="877.3" y="505.0" width="12.3" height="12.2" fill="#f4f6f4"/><rect x="878.90" y="506.60" width="3.75" height="3.70" fill="#4e6976"/><rect x="878.90" y="511.90" width="3.75" height="3.70" fill="#4e6976"/><rect x="884.25" y="506.60" width="3.75" height="3.70" fill="#4e6976"/><rect x="884.25" y="511.90" width="3.75" height="3.70" fill="#4e6976"/>
  <!-- emblem -->
  <circle cx="781.2" cy="467" r="13" fill="#fbfbfb" stroke="#4a4d4f" stroke-width="1.8"/>
  <g fill="#3c3f44">
    <path d="M773.5,462.5 L781.2,458 L789,462.5 Z"/>
    <rect x="774.5" y="463.3" width="13.4" height="1.3"/>
    <rect x="775.3" y="465" width="1.8" height="7"/>
    <rect x="778.5" y="465" width="1.8" height="7"/>
    <rect x="782.1" y="465" width="1.8" height="7"/>
    <rect x="785.3" y="465" width="1.8" height="7"/>
    <rect x="773.5" y="472.3" width="15.4" height="1.7"/>
  </g>
  <!-- door -->
  <rect x="773.8" y="502.2" width="14.5" height="20.3" fill="#7a4a3a"/>
  <rect x="775" y="503.4" width="12.1" height="19.1" fill="#8f5b47"/>
  <!-- base -->
  <rect x="673" y="522" width="220" height="1.6" fill="#d7dbd3"/>
</g>

<!-- labels -->
<text class="lb" x="414" y="166.7" textLength="118.6" lengthAdjust="spacing">Steuerbürger</text>
<text class="lb" x="183.4" y="262.7" textLength="118.4" lengthAdjust="spacing">Grundsteuer-</text>
<text class="lb" x="198.7" y="287.2" textLength="88.1" lengthAdjust="spacing">erklärung</text>
<text class="lb" x="664" y="226.5" textLength="69.5" lengthAdjust="spacing">Zahlung</text>
<text class="lb" x="664" y="250.1" textLength="64.4" lengthAdjust="spacing">ab 2025</text>
<text class="lb" x="317.7" y="352.0" textLength="118.7" lengthAdjust="spacing">Grundsteuer-</text>
<text class="lb" x="313.5" y="376.9" textLength="126.3" lengthAdjust="spacing">messbescheid</text>
<text class="lb" x="492.6" y="352.0" textLength="118.8" lengthAdjust="spacing">Grundsteuer-</text>
<text class="lb" x="507.8" y="376.9" textLength="88.4" lengthAdjust="spacing">bescheid*</text>
<text class="lb" x="372.6" y="548.8" textLength="130.6" lengthAdjust="spacing">Feststellungen</text>
<text class="lb" x="367.6" y="573.6" textLength="139.8" lengthAdjust="spacing">des Finanzamts</text>
<text class="lb" x="702.2" y="552.4" textLength="161.6" lengthAdjust="spacing">Bayerische Städte</text>
<text class="lb" x="712" y="577.0" textLength="142" lengthAdjust="spacing">und Gemeinden</text>
<text class="lb" x="728.5" y="625.5" textLength="202.6" lengthAdjust="spacing" style="font-size:13.3px">*in 2024 mit Zahlungsaufforderung</text>
<text class="sl" x="90.7" y="573.6" textLength="195.3" lengthAdjust="spacingAndGlyphs" style="font-size:16.5px;stroke-width:0.6px">www.grundsteuer.bayern.de</text>
<text class="lb" x="90.7" y="592.6" textLength="111.3" lengthAdjust="spacingAndGlyphs" style="font-size:14px">089 - 30 70 00 77</text>
</svg>
</body></html>
